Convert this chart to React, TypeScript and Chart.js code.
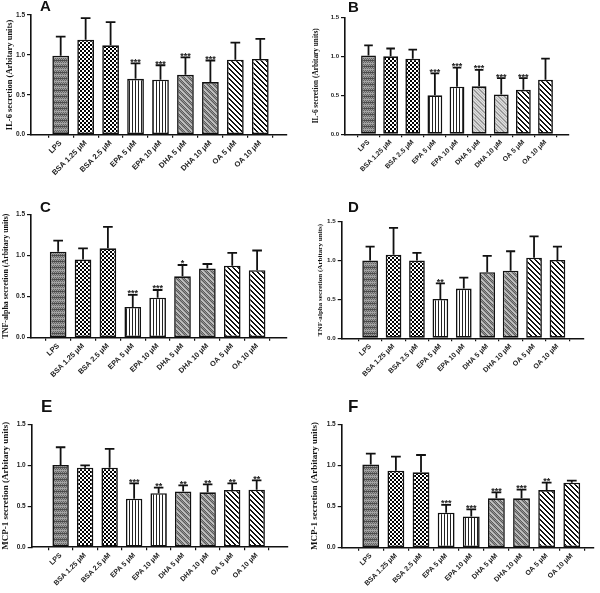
import React, { useEffect, useRef } from "react";
import { Chart, registerables } from "chart.js";
Chart.register(...registerables);

// ---------- data ----------
const categories = ["LPS", "BSA 1.25 μM", "BSA 2.5 μM", "EPA 5 μM", "EPA 10 μM", "DHA 5 μM", "DHA 10 μM", "OA 5 μM", "OA 10 μM"];
const yTickValues = [0, 0.5, 1.0, 1.5];

const il6AMean = [0.99, 1.19, 1.12, 0.70, 0.69, 0.75, 0.66, 0.94, 0.95];
const il6AUpper = [1.23, 1.46, 1.41, 0.895, 0.87, 0.97, 0.93, 1.155, 1.20];
const il6AStars = ["", "", "", "***", "***", "***", "***", "", ""];

const il6BMean = [1.01, 1.00, 0.97, 0.50, 0.61, 0.615, 0.51, 0.57, 0.70];
const il6BUpper = [1.14, 1.10, 1.085, 0.78, 0.855, 0.825, 0.72, 0.72, 0.97];
const il6BStars = ["", "", "", "***", "***", "***", "***", "***", ""];

const tnfCMean = [1.046, 0.95, 1.086, 0.373, 0.486, 0.746, 0.84, 0.876, 0.82];
const tnfCUpper = [1.18, 1.085, 1.346, 0.52, 0.58, 0.884, 0.896, 1.03, 1.06];
const tnfCStars = ["", "", "", "***", "***", "*", "", "", ""];

const tnfDMean = [1.0, 1.076, 1.0, 0.506, 0.64, 0.85, 0.87, 1.037, 1.007];
const tnfDUpper = [1.18, 1.42, 1.10, 0.707, 0.78, 1.06, 1.12, 1.31, 1.18];
const tnfDStars = ["", "", "", "**", "", "", "", "", ""];

const mcpEMean = [1.004, 0.97, 0.97, 0.593, 0.66, 0.68, 0.67, 0.70, 0.703];
const mcpEUpper = [1.22, 1.00, 1.20, 0.78, 0.728, 0.756, 0.768, 0.78, 0.817];
const mcpEStars = ["", "", "", "***", "**", "**", "**", "**", "**"];

const mcpFMean = [1.01, 0.936, 0.916, 0.426, 0.38, 0.60, 0.60, 0.70, 0.79];
const mcpFUpper = [1.143, 1.107, 1.127, 0.52, 0.466, 0.673, 0.705, 0.79, 0.815];
const mcpFStars = ["", "", "", "***", "***", "***", "***", "**", ""];

const IL6_TITLE = "IL-6 secretion (Arbitary units)";
const TNF_TITLE = "TNF-alpha secretion (Arbitary units)";
const MCP_TITLE = "MCP-1 secretion (Arbitary units)";

// ---------- layout (not data) ----------
type PanelCfg = {
  letter: string; title: string; mean: number[]; upper: number[]; stars: string[];
  cx: number; cy: number; cw: number; ch: number;
  left: number; top: number; right: number; bottom: number;
  xMin: number; xMax: number; titleSize: number; titleCenter: number;
  xFont: number; yFont: number; dha: "dark" | "light"; letterSize: number; letterTop: number; letterLeft: number;
};

const panels: PanelCfg[] = [
  { letter: "A", title: IL6_TITLE, mean: il6AMean, upper: il6AUpper, stars: il6AStars,
    cx: 0, cy: 0, cw: 300, ch: 195, left: 31, top: 15, right: 287, bottom: 134.7,
    xMin: -0.62, xMax: 8.5, titleSize: 8.5, titleCenter: 10, xFont: 7.5, yFont: 6.5, dha: "dark", letterSize: 15, letterTop: -2, letterLeft: 40 },
  { letter: "B", title: IL6_TITLE, mean: il6BMean, upper: il6BUpper, stars: il6BStars,
    cx: 300, cy: 0, cw: 300, ch: 195, left: 345, top: 17.3, right: 569, bottom: 134.3,
    xMin: -0.5, xMax: 8.5, titleSize: 7.3, titleCenter: 316, xFont: 6.8, yFont: 6, dha: "light", letterSize: 15, letterTop: -1, letterLeft: 348 },
  { letter: "C", title: TNF_TITLE, mean: tnfCMean, upper: tnfCUpper, stars: tnfCStars,
    cx: 0, cy: 195, cw: 300, ch: 200, left: 31, top: 214.3, right: 287, bottom: 337.7,
    xMin: -0.52, xMax: 8.63, titleSize: 7.9, titleCenter: 5.5, xFont: 7.3, yFont: 6.5, dha: "dark", letterSize: 15, letterTop: 199, letterLeft: 40 },
  { letter: "D", title: TNF_TITLE, mean: tnfDMean, upper: tnfDUpper, stars: tnfDStars,
    cx: 300, cy: 195, cw: 300, ch: 200, left: 341.7, top: 221.7, right: 583.3, bottom: 338.3,
    xMin: -0.64, xMax: 8.53, titleSize: 7.1, titleCenter: 320, xFont: 7, yFont: 6.2, dha: "dark", letterSize: 15, letterTop: 199, letterLeft: 348 },
  { letter: "E", title: MCP_TITLE, mean: mcpEMean, upper: mcpEUpper, stars: mcpEStars,
    cx: 0, cy: 395, cw: 300, ch: 198, left: 31.7, top: 424.3, right: 287.3, bottom: 547.3,
    xMin: -0.6, xMax: 8.67, titleSize: 9, titleCenter: 5.5, xFont: 7, yFont: 6.5, dha: "dark", letterSize: 17, letterTop: 398, letterLeft: 41 },
  { letter: "F", title: MCP_TITLE, mean: mcpFMean, upper: mcpFUpper, stars: mcpFStars,
    cx: 300, cy: 395, cw: 300, ch: 198, left: 341.7, top: 424.3, right: 593.3, bottom: 547.7,
    xMin: -0.6, xMax: 8.3, titleSize: 9, titleCenter: 315, xFont: 7, yFont: 6.5, dha: "dark", letterSize: 17, letterTop: 398, letterLeft: 348 },
];

const SANS = "Arial, 'Liberation Sans', Helvetica, sans-serif";
const SERIF = "'Liberation Serif', 'Times New Roman', Times, serif";

function tile(w: number, h: number, fn: (x: number, y: number) => string): CanvasPattern {
  const c = document.createElement("canvas");
  c.width = w; c.height = h;
  const g = c.getContext("2d")!;
  for (let y = 0; y < h; y++) for (let x = 0; x < w; x++) { g.fillStyle = fn(x, y); g.fillRect(x, y, 1, 1); }
  return g.createPattern(c, "repeat")!;
}

function makePatterns(dha: "dark" | "light"): CanvasPattern[] {
  const lps = tile(4, 6, (x, y) => {
    const r = y % 6;
    if (r === 0) return "#4c4c4c";
    if (r === 3) return "#a4a4a4";
    return (x + y) % 2 ? "#626262" : "#9c9c9c";
  });
  const bsa = tile(4, 4, (x, y) => ((Math.floor(x / 2) + Math.floor(y / 2)) % 2 ? "#000" : "#fff"));
  const epa = tile(3, 1, (x) => (x === 0 ? "#222" : "#fff"));
  const dhaP = dha === "dark"
    ? tile(6, 6, (x, y) => ((x - y + 60) % 6 < 2 ? "#c0c0c0" : (x + y) % 2 ? "#5a5a5a" : "#969696"))
    : tile(6, 6, (x, y) => ((x - y + 60) % 6 < 1 ? "#8a8a8a" : (x + y) % 2 ? "#bdbdbd" : "#e0e0e0"));
  const oa = tile(5, 5, (x, y) => ((x - y + 50) % 5 < 2 ? "#111" : "#fff"));
  return [lps, bsa, bsa, epa, epa, dhaP, dhaP, oa, oa];
}

const errorBarPlugin = {
  id: "errbars",
  afterDatasetsDraw(chart: any, _args: any, opts: any) {
    const { ctx } = chart;
    const meta = chart.getDatasetMeta(0);
    const ys = chart.scales.y;
    ctx.save();
    meta.data.forEach((bar: any, i: number) => {
      const { x, y, width } = bar.getProps(["x", "y", "width"], true);
      const yt = ys.getPixelForValue(opts.upper[i]);
      ctx.strokeStyle = "#111";
      ctx.lineWidth = 1.8;
      ctx.beginPath();
      ctx.moveTo(x, y);
      ctx.lineTo(x, yt);
      const cw = width * 0.29;
      ctx.moveTo(x - cw, yt);
      ctx.lineTo(x + cw, yt);
      ctx.stroke();
      const s = opts.stars[i];
      if (s) {
        ctx.fillStyle = "#222";
        ctx.font = `bold 9px ${SANS}`;
        ctx.textAlign = "center";
        ctx.textBaseline = "alphabetic";
        ctx.fillText(s, x, yt + 1.5);
      }
    });
    ctx.restore();
  },
};

function Panel({ p }: { p: PanelCfg }) {
  const ref = useRef<HTMLCanvasElement>(null);
  useEffect(() => {
    const canvas = ref.current!;
    const pats = makePatterns(p.dha);
    const chart = new Chart(canvas, {
      type: "bar",
      data: {
        datasets: [{
          data: p.mean.map((v, i) => ({ x: i, y: v })) as any,
          backgroundColor: pats as any,
          borderColor: "#111",
          borderWidth: 1.6,
          borderSkipped: false,
          barPercentage: 0.67,
          categoryPercentage: 1,
        }],
      },
      options: {
        responsive: false,
        animation: false,
        layout: { padding: { top: p.top - p.cy, right: p.cx + p.cw - p.right, left: 0, bottom: 0 } },
        plugins: {
          legend: { display: false },
          tooltip: { enabled: false },
          errbars: { upper: p.upper, stars: p.stars },
        } as any,
        scales: {
          x: {
            type: "linear",
            min: p.xMin,
            max: p.xMax,
            afterBuildTicks: (s: any) => { s.ticks = categories.map((_, i) => ({ value: i })); },
            afterFit: (s: any) => { s.height = p.cy + p.ch - p.bottom; },
            grid: { display: true, drawOnChartArea: false, drawTicks: true, tickLength: 3, color: "#111", lineWidth: 1.2 },
            border: { display: true, color: "#111", width: 1.6 },
            ticks: {
              autoSkip: false, minRotation: 45, maxRotation: 45, padding: 1, color: "#222",
              font: { family: SANS, size: p.xFont, weight: "bold" },
              callback: (v: any) => categories[v] ?? "",
            },
          },
          y: {
            min: 0,
            max: 1.5,
            afterBuildTicks: (s: any) => { s.ticks = yTickValues.map((v) => ({ value: v })); },
            afterFit: (s: any) => { s.width = p.left - p.cx; },
            grid: { display: true, drawOnChartArea: false, drawTicks: true, tickLength: 4, color: "#111", lineWidth: 1.2 },
            border: { display: true, color: "#111", width: 1.6 },
            ticks: {
              padding: 2, color: "#222",
              font: { family: SANS, size: p.yFont, weight: "bold" },
              callback: (v: any) => Number(v).toFixed(1),
            },
            title: {
              display: true, text: p.title, color: "#111",
              font: { family: SERIF, size: p.titleSize, weight: "bold", lineHeight: 1.2 },
              padding: { top: Math.max(0, p.titleCenter - p.cx - 0.6 * p.titleSize), bottom: 0 },
            },
          },
        },
      },
      plugins: [errorBarPlugin as any],
    });
    return () => chart.destroy();
  }, [p]);
  return (
    <>
      <canvas ref={ref} width={p.cw} height={p.ch}
        style={{ position: "absolute", left: p.cx, top: p.cy, width: p.cw, height: p.ch }} />
      <div style={{ position: "absolute", left: p.letterLeft, top: p.letterTop, font: `bold ${p.letterSize}px ${SANS}`, lineHeight: 1, color: "#111" }}>
        {p.letter}
      </div>
    </>
  );
}

export default function App() {
  return (
    <div style={{ position: "absolute", left: 0, top: 0, width: 600, height: 593, background: "#fff", overflow: "hidden" }}>
      {panels.map((p) => <Panel key={p.letter} p={p} />)}
    </div>
  );
}
